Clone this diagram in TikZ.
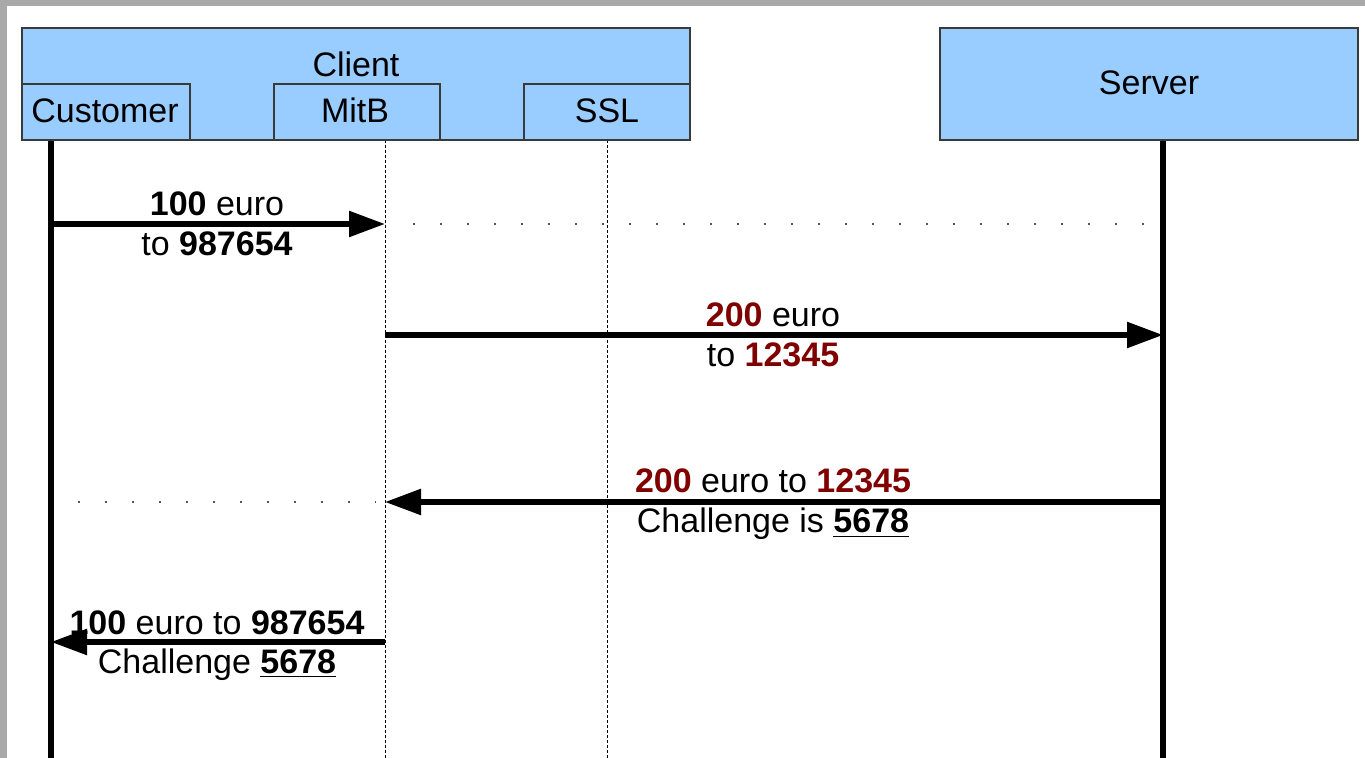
\documentclass[tikz,border=0pt]{standalone}
\usepackage{fontspec}
\setmainfont{Liberation Sans}
\usetikzlibrary{arrows.meta,positioning}
\definecolor{headBlue}{HTML}{99CCFF}
\definecolor{edgeGray}{HTML}{3A3A3A}
\definecolor{frameGray}{HTML}{A9A9A9}
\definecolor{fakeRed}{HTML}{800000}
\definecolor{dotGray}{HTML}{555555}
\newcommand{\fakeval}[1]{\textcolor{fakeRed}{\textbf{#1}}}
\newcommand{\chal}[1]{\underline{\textbf{#1}}}

\begin{document}
\begin{tikzpicture}[
        x=0.5pt, y=-0.5pt,
        font=\fontsize{17}{19.5}\selectfont,
        head/.style={rectangle, draw=edgeGray, line width=0.75pt, fill=headBlue, inner sep=0pt},
        lbl/.style={anchor=base, inner sep=0pt},
        life/.style={line width=3pt},
        sublife/.style={line width=0.5pt, dash pattern=on 1.5pt off 1pt},
        msg/.style={-{Triangle[length=18pt,width=12.5pt]}, line width=2.75pt},
        trail/.style={draw=dotGray, line width=1pt, dash pattern=on 1pt off 12.5pt}
      ]
        \useasboundingbox (0,0) rectangle (1365,758);
        \fill[frameGray] (0,0) rectangle (1365,758);
        \fill[white] (7,6) rectangle (1365,758);
        % lifelines
        \coordinate (cuTop) at (51,140);   \coordinate (cuBot) at (51,758);
        \coordinate (mbTop) at (385,140);  \coordinate (mbBot) at (385,758);
        \coordinate (slTop) at (607,140);  \coordinate (slBot) at (607,758);
        \coordinate (svTop) at (1163,140); \coordinate (svBot) at (1163,758);
        \draw[life] (cuTop) -- (cuBot);
        \draw[sublife] (mbTop) -- (mbBot);
        \draw[sublife] (slTop) -- (slBot);
        \draw[life] (svTop) -- (svBot);
        % headers
        \node[head, minimum width=334pt, minimum height=56pt] (client) at (356,84) {};
        \node[head, minimum width=84pt, minimum height=28pt] (customer) at (106,112) {};
        \node[head, minimum width=83pt, minimum height=28pt] (mitb) at (357,112) {};
        \node[head, minimum width=83pt, minimum height=28pt] (ssl) at (607,112) {};
        \node[head, minimum width=209pt, minimum height=56pt] (server) at (1149,84) {};
        \node[lbl] (clientTxt) at (356,77) {Client};
        \node[lbl] (customerTxt) at (105,123) {Customer};
        \node[lbl] (mitbTxt) at (355,123) {MitB};
        \node[lbl] (sslTxt) at (607,123) {SSL};
        \node[lbl] (serverTxt) at (1149,95) {Server};
        % messages
        \coordinate (m1a) at (51,224);   \coordinate (m1b) at (385,224);
        \coordinate (m2a) at (385,335);  \coordinate (m2b) at (1163,335);
        \coordinate (m3a) at (1163,502); \coordinate (m3b) at (385,502);
        \coordinate (m4a) at (385,642);  \coordinate (m4b) at (51,642);
        \coordinate (t1a) at (413,224);  \coordinate (t1b) at (1146,224);
        \coordinate (t3a) at (78,502);   \coordinate (t3b) at (376,502);
        \draw[trail] (t1a) -- (t1b);
        \draw[trail] (t3a) -- (t3b);
        \draw[msg] (m1a) -- (m1b);
        \draw[msg] (m2a) -- (m2b);
        \draw[msg] (m3a) -- (m3b);
        \draw[msg] (m4a) -- (m4b);
        \node[lbl] (m1up) at (217,216) {\textbf{100} euro};
        \node[lbl] (m1dn) at (217,256) {to \textbf{987654}};
        \node[lbl] (m2up) at (773,327) {\fakeval{200} euro};
        \node[lbl] (m2dn) at (773,367) {to \fakeval{12345}};
        \node[lbl] (m3up) at (773,493) {\fakeval{200} euro to \fakeval{12345}};
        \node[lbl] (m3dn) at (773,533) {Challenge is \chal{5678}};
        \node[lbl] (m4up) at (217,634) {\textbf{100} euro to \textbf{987654}};
        \node[lbl] (m4dn) at (217,673) {Challenge \chal{5678}};
      \end{tikzpicture}
\end{document}
